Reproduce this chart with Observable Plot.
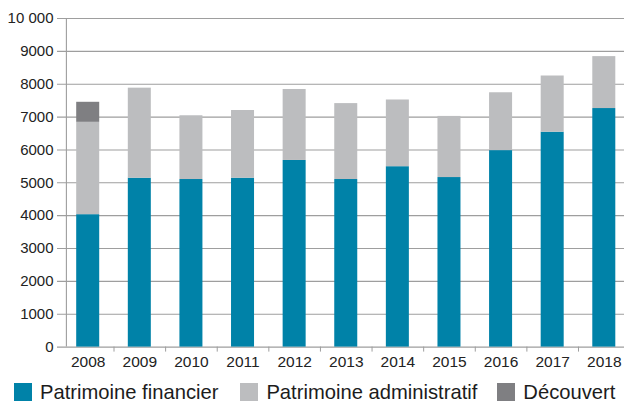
<!DOCTYPE html>
<html>
<head>
<meta charset="utf-8">
<script src="https://cdn.jsdelivr.net/npm/d3@7"></script>
<script src="https://cdn.jsdelivr.net/npm/@observablehq/plot@0.6"></script>
<style>
  html, body { margin: 0; padding: 0; background: #fff; }
  body { width: 624px; height: 403px; overflow: hidden; position: relative;
         font-family: "Liberation Sans", Arial, Helvetica, sans-serif; }
  #legend { position: absolute; top: 382px; left: 14px; display: flex; align-items: center;
            font-size: 20.2px; line-height: 1; color: #1c1c1c; white-space: nowrap; }
  .item { display: flex; align-items: center; margin-right: 22px; }
  .item:nth-child(2) { margin-right: 20px; }
  .sw { width: 18px; height: 18px; margin-right: 8px; flex: none; }
</style>
</head>
<body>
<div id="chart"></div>
<div id="legend"></div>
<script>
const years = [2008, 2009, 2010, 2011, 2012, 2013, 2014, 2015, 2016, 2017, 2018];
const financier     = [4030, 5140, 5100, 5140, 5680, 5100, 5490, 5160, 5980, 6540, 7260];
const administratif = [2810, 2740, 1940, 2060, 2160, 2310, 2030, 1860, 1760, 1710, 1580];
const decouvert     = [610, 0, 0, 0, 0, 0, 0, 0, 0, 0, 0];
const seriesNames  = ["Patrimoine financier", "Patrimoine administratif", "Découvert"];
const seriesColors = ["#0082a8", "#bcbdbf", "#7f7f82"];
const yTicks = [0, 1000, 2000, 3000, 4000, 5000, 6000, 7000, 8000, 9000, 10000];
const yTickLabels = ["0", "1000", "2000", "3000", "4000", "5000", "6000", "7000", "8000", "9000", "10 000"];

const seriesValues = [financier, administratif, decouvert];
const rows = [];
seriesNames.forEach((s, k) => {
  years.forEach((yr, i) => {
    rows.push({year: yr, x1: yr - 0.5, x2: yr + 0.5, series: s, value: seriesValues[k][i]});
  });
});
const boundaries = years.slice(0, -1).map(y => y + 0.5);

const chart = Plot.plot({
  width: 624,
  height: 378,
  marginTop: 18,
  marginBottom: 31.4,
  marginLeft: 62,
  marginRight: 0,
  style: {fontFamily: '"Liberation Sans", Arial, Helvetica, sans-serif', fontSize: "15px", color: "#222", background: "#fff"},
  x: {type: "linear", domain: [years[0] - 0.5, years[years.length - 1] + 0.5], range: [61.9, 629.6]},
  y: {domain: [0, 10000]},
  color: {domain: seriesNames, range: seriesColors},
  marks: [
    Plot.ruleY(yTicks, {stroke: "#9e9e9e", strokeWidth: 1.1, insetLeft: -5}),
    Plot.ruleX([years[0] - 0.5], {dx: 4, stroke: "#9e9e9e", strokeWidth: 1.1}),
    Plot.rectY(rows, Plot.stackY({x1: "x1", x2: "x2", y: "value", fill: "series", insetLeft: 14.3, insetRight: 14.3})),
    Plot.axisY({ticks: yTicks, tickFormat: d => yTickLabels[yTicks.indexOf(d)], tickSize: 0, tickPadding: 9, label: null, fill: "#222"}),
    Plot.axisX({ticks: years, tickFormat: d => String(d), tickSize: 0, tickPadding: 8.5, label: null, fontSize: 15.5, fill: "#222"}),
    Plot.axisX({ticks: boundaries, tickFormat: () => "", tickSize: 5, label: null, stroke: "#9e9e9e"})
  ]
});
document.getElementById("chart").appendChild(chart);

const legend = document.getElementById("legend");
seriesNames.forEach((s, k) => {
  const item = document.createElement("div");
  item.className = "item";
  const sw = document.createElement("span");
  sw.className = "sw";
  sw.style.background = seriesColors[k];
  const tx = document.createElement("span");
  tx.textContent = s;
  item.appendChild(sw);
  item.appendChild(tx);
  legend.appendChild(item);
});
</script>
</body>
</html>
